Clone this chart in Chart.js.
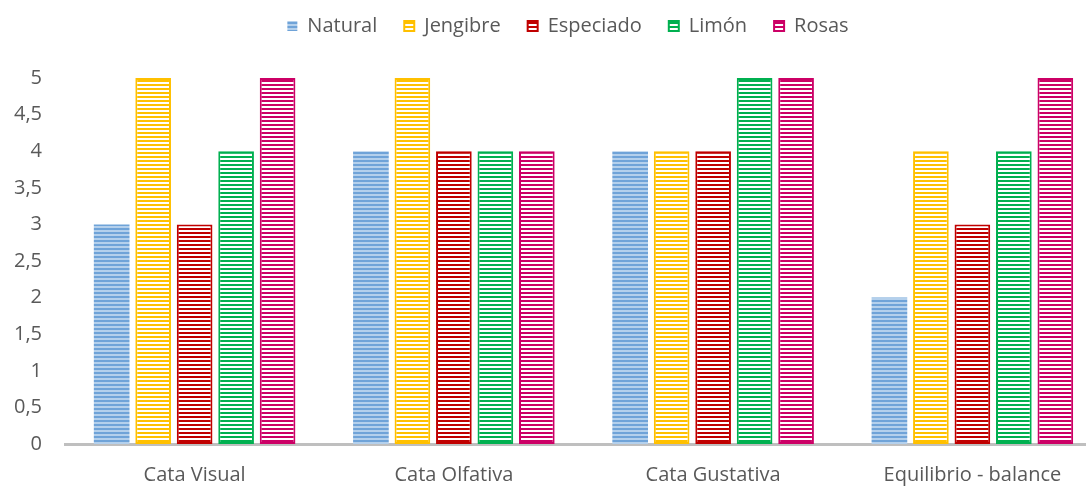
<!DOCTYPE html>
<html>
<head>
<meta charset="utf-8">
<script src="https://cdn.jsdelivr.net/npm/chart.js@4/dist/chart.umd.min.js"></script>
<style>
  html, body { margin: 0; padding: 0; background: #fff; overflow: hidden; }
  #wrap { width: 1102px; height: 486px; }
</style>
</head>
<body>
<div id="wrap"><canvas id="myChart"></canvas></div>
<script>
const categories = ["Cata Visual", "Cata Olfativa", "Cata Gustativa", "Equilibrio - balance"];
const natural = [3, 4, 4, 2];
const jengibre = [5, 5, 4, 4];
const especiado = [3, 4, 4, 3];
const limon = [4, 4, 5, 4];
const rosas = [5, 4, 5, 5];

// horizontal stripes, like the Excel pattern fill
const stripes = (color, gap = "#ffffff") => {
  const c = document.createElement("canvas");
  c.width = 4;
  c.height = 4;
  const ctx = c.getContext("2d");
  ctx.fillStyle = gap;
  ctx.fillRect(0, 0, 4, 4);
  ctx.fillStyle = color;
  ctx.fillRect(0, 0, 4, 2);
  return ctx.createPattern(c, "repeat");
};

const mk = (label, data, color, gap, border) => ({
  label,
  data,
  backgroundColor: stripes(color, gap),
  borderColor: color,
  borderWidth: border,
  borderSkipped: false,
});

const canvas = document.querySelector("canvas#myChart");
const font = { family: "'Open Sans', 'Liberation Sans', sans-serif", size: 20 };

// extra room under the legend, and nudge it into place
const legendTweak = {
  id: "legendTweak",
  beforeInit(chart) {
    const lg = chart.legend;
    const fit = lg.fit;
    lg.fit = function () {
      fit.bind(lg)();
      this.height += 18;
    };
    const draw = lg.draw;
    lg.draw = function () {
      const ctx = chart.ctx;
      ctx.save();
      ctx.translate(17, -14);
      draw.bind(lg)();
      ctx.restore();
    };
  },
};

new Chart(canvas, {
  type: "bar",
  data: {
    labels: categories,
    datasets: [
      mk("Natural", natural, "#6FA3D8", "#B4D0EC", 0),
      mk("Jengibre", jengibre, "#FFC000", "#ffffff", 2),
      mk("Especiado", especiado, "#C00000", "#ffffff", 2),
      mk("Limón", limon, "#00B050", "#ffffff", 2),
      mk("Rosas", rosas, "#CC0066", "#ffffff", 2),
    ],
  },
  plugins: [legendTweak],
  options: {
    responsive: true,
    maintainAspectRatio: false,
    animation: false,
    categoryPercentage: 0.8,
    barPercentage: 0.86,
    layout: { padding: { top: 3, right: 0, bottom: 0, left: 0 } },
    plugins: {
      legend: {
        position: "top",
        labels: {
          font,
          color: "#595959",
          boxWidth: 10,
          boxHeight: 10,
          padding: 27,
        },
      },
      tooltip: { enabled: false },
    },
    scales: {
      x: {
        grid: { display: false, drawTicks: false },
        border: { color: "#BFBFBF", width: 3 },
        ticks: { font, color: "#595959", padding: 19 },
        afterFit: (s) => { s.height = 42; },
      },
      y: {
        min: 0,
        max: 5,
        grid: { display: false, drawTicks: false },
        border: { display: false },
        ticks: {
          stepSize: 0.5,
          font,
          color: "#595959",
          padding: 23,
          callback: (v) => String(v).replace(".", ","),
        },
        afterFit: (s) => { s.width = 65; },
      },
    },
  },
});
</script>
</body>
</html>
